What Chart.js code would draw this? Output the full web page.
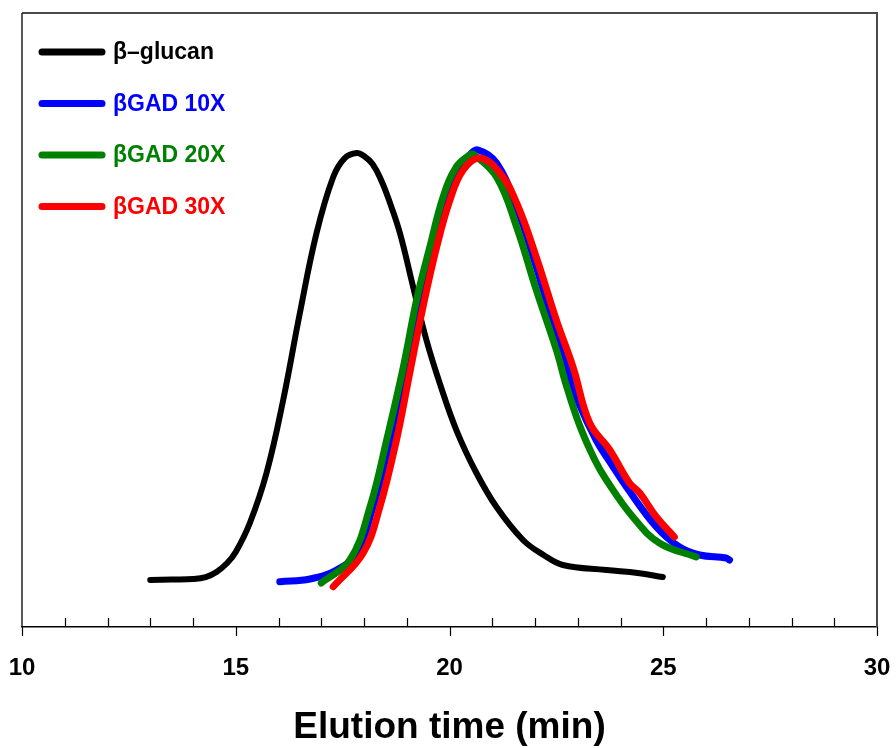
<!DOCTYPE html>
<html>
<head>
<meta charset="utf-8">
<script src="https://cdn.jsdelivr.net/npm/chart.js@4.4.1/dist/chart.umd.min.js"></script>
<style>
  html, body { margin: 0; padding: 0; background: #fff; }
  #wrap { width: 896px; height: 748px; position: relative; }
</style>
</head>
<body>
<div id="wrap"><canvas id="gpc"></canvas></div>
<script>
// elution time (min) / detector response (relative units)
const glucanTime = [13.0, 13.5, 14.0, 14.3, 14.55, 14.8, 15.0, 15.33, 15.72, 16.11, 16.5, 16.89, 17.28, 17.55, 17.83, 18.0, 18.2, 18.4, 18.6, 18.84, 19.15, 19.46, 19.77, 20.16, 20.63, 21.1, 21.72, 22.2, 22.65, 23.67, 24.4, 24.99];
const glucanResp = [7.65, 7.74, 7.82, 8.14, 8.96, 10.42, 12.21, 16.94, 25.08, 36.97, 51.14, 64.17, 73.29, 76.38, 77.2, 76.71, 75.41, 72.8, 69.22, 64.17, 55.37, 46.74, 39.74, 32.08, 25.08, 19.54, 14.17, 11.73, 10.1, 9.28, 8.79, 8.14];

const gad10Time = [16.03, 16.74, 17.36, 17.83, 18.21, 18.53, 18.92, 19.23, 19.54, 19.85, 20.16, 20.47, 20.67, 21.1, 21.57, 22.03, 22.5, 22.8, 23.04, 23.43, 23.8, 24.14, 24.84, 25.38, 25.85, 26.47, 26.55];
const gad10Resp = [7.38, 7.82, 9.28, 12.05, 19.54, 27.69, 40.23, 51.14, 60.91, 68.4, 73.94, 76.87, 77.69, 75.57, 68.4, 58.63, 47.56, 41.04, 36.2, 30.46, 26.38, 22.8, 16.29, 13.03, 11.73, 11.24, 10.91];

const gad20Time = [17.0, 17.67, 18.14, 18.53, 18.92, 19.23, 19.54, 19.85, 20.16, 20.47, 20.55, 21.1, 21.57, 22.03, 22.5, 22.73, 23.04, 23.4, 23.67, 24.29, 24.91, 25.77];
const gad20Resp = [7.17, 10.91, 19.54, 30.46, 42.35, 53.26, 61.89, 70.03, 74.92, 76.87, 77.04, 73.29, 65.15, 54.89, 45.11, 39.41, 32.9, 27.2, 23.94, 17.92, 13.68, 11.4];

const gad30Time = [17.28, 17.98, 18.37, 18.76, 19.07, 19.38, 19.7, 20.01, 20.32, 20.71, 21.18, 21.57, 22.03, 22.5, 22.89, 23.28, 23.75, 24.21, 24.45, 24.84, 25.26];
const gad30Resp = [6.56, 12.05, 19.54, 30.46, 41.37, 52.12, 61.89, 69.54, 74.43, 76.38, 73.94, 69.06, 60.26, 50.0, 42.35, 33.22, 28.83, 23.45, 21.82, 17.92, 14.66];

const seriesNames = ["\u03b2\u2013glucan", "\u03b2GAD 10X", "\u03b2GAD 20X", "\u03b2GAD 30X"];
const seriesColors = ["#000000", "#0000ff", "#008000", "#ff0000"];
const xTicksMajor = [10, 15, 20, 25, 30];
const xTitle = "Elution time (min)";
const FONT = "'Liberation Sans', Arial, sans-serif";

function toPoints(xs, ys) {
  return xs.map((x, i) => ({ x: x, y: ys[i] }));
}

// frame round the plot, minor ticks inside, major ticks outside, axis title
const framePlugin = {
  id: "frame",
  afterDraw(chart) {
    const ctx = chart.ctx;
    const a = chart.chartArea;
    const xs = chart.scales.x;
    ctx.save();
    // top + right edges (greyish)
    ctx.strokeStyle = "#4a4a4a";
    ctx.lineWidth = 2;
    ctx.beginPath();
    ctx.moveTo(a.left, a.top);
    ctx.lineTo(a.right, a.top);
    ctx.lineTo(a.right, a.bottom);
    ctx.stroke();
    // left edge
    ctx.strokeStyle = "#222";
    ctx.lineWidth = 1.5;
    ctx.beginPath();
    ctx.moveTo(a.left, a.top);
    ctx.lineTo(a.left, a.bottom);
    ctx.stroke();
    ctx.strokeStyle = "#000";
    ctx.lineWidth = 1.2;
    xs.ticks.forEach((t) => {
      const px = Math.round(xs.getPixelForValue(t.value)) + 0.5;
      const major = xTicksMajor.includes(t.value);
      ctx.beginPath();
      ctx.moveTo(px, a.bottom);
      ctx.lineTo(px, major ? a.bottom + 9 : a.bottom - 9);
      ctx.stroke();
    });
    // x title
    ctx.fillStyle = "#000";
    ctx.font = "bold 37px " + FONT;
    ctx.textAlign = "center";
    ctx.textBaseline = "middle";
    ctx.fillText(xTitle, (a.left + a.right) / 2, a.bottom + 101);
    ctx.restore();
  },
};

// legend drawn inside the plot, top-left
const insideLegend = {
  id: "insideLegend",
  afterDraw(chart) {
    const ctx = chart.ctx;
    const a = chart.chartArea;
    ctx.save();
    ctx.font = "bold 23px " + FONT;
    ctx.textBaseline = "middle";
    ctx.lineCap = "round";
    chart.data.datasets.forEach((ds, i) => {
      const y = a.top + 39 + i * 51.5;
      ctx.strokeStyle = ds.borderColor;
      ctx.lineWidth = 7;
      ctx.beginPath();
      ctx.moveTo(a.left + 20, y);
      ctx.lineTo(a.left + 80, y);
      ctx.stroke();
      ctx.fillStyle = ds.borderColor;
      ctx.fillText(ds.label, a.left + 91, y + 1);
    });
    ctx.restore();
  },
};

const sets = [
  [glucanTime, glucanResp],
  [gad10Time, gad10Resp],
  [gad20Time, gad20Resp],
  [gad30Time, gad30Resp],
];

const chart = new Chart(document.getElementById("gpc").getContext("2d"), {
  type: "line",
  data: {
    datasets: sets.map((s, i) => ({
      label: seriesNames[i],
      data: toPoints(s[0], s[1]),
      borderColor: seriesColors[i],
      backgroundColor: seriesColors[i],
      borderWidth: i === 0 ? 6 : 7,
      pointRadius: 0,
      fill: false,
      tension: 0.4,
      borderCapStyle: "round",
      borderJoinStyle: "round",
      order: 3 - i, // red on top, black underneath
    })),
  },
  options: {
    responsive: true,
    maintainAspectRatio: false,
    animation: false,
    layout: { padding: { left: 22, right: 19, top: 13, bottom: 0 } },
    plugins: {
      legend: { display: false },
      tooltip: { enabled: false },
    },
    scales: {
      x: {
        type: "linear",
        min: 10,
        max: 30,
        border: { display: true, color: "#000", width: 1.5 },
        grid: {
          drawOnChartArea: false,
          drawTicks: true,
          tickLength: 9,
          color: "rgba(0,0,0,0)",
        },
        ticks: {
          stepSize: 1,
          autoSkip: false,
          maxRotation: 0,
          padding: 18,
          color: "#000",
          font: { family: FONT, size: 24, weight: "bold" },
          callback: (v) => (xTicksMajor.includes(v) ? String(v) : ""),
        },
        afterFit: (scale) => {
          // fixed band under the plot, labels may hang over the side padding
          scale.height = 121;
          scale.paddingLeft = 0;
          scale.paddingRight = 0;
        },
      },
      y: {
        display: false,
        min: 0,
        max: 100,
      },
    },
  },
  plugins: [framePlugin, insideLegend],
});
</script>
</body>
</html>
